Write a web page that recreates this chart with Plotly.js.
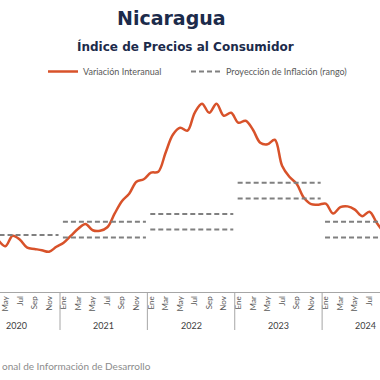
<!DOCTYPE html>
<html>
<head>
<meta charset="utf-8">
<script src="https://cdn.plot.ly/plotly-3.0.1.min.js"></script>
<style>html,body{margin:0;padding:0;background:#fff;}#chart{width:380px;height:380px;}</style>
</head>
<body>
<div id="chart"></div>
<script>
// ---- data ----
const monthNames = ['Ene','Feb','Mar','Abr','May','Jun','Jul','Ago','Sep','Oct','Nov','Dic'];
const years = [2020, 2021, 2022, 2023, 2024];
// Variación interanual (%), from Abr 2020 to Sep 2024
const startYear = 2020;
const startMonth = 4; // Abr
const interanual = [
  3.35, 2.94, 3.61, 3.35, 2.84, 2.76, 2.68, 2.58, 2.90,
  3.16, 3.61, 4.06, 4.36, 3.96, 3.93, 4.15, 5.02, 5.82, 6.30, 7.07, 7.23,
  7.65, 7.71, 8.93, 10.08, 10.53, 10.34, 11.49, 12.07, 11.49, 12.07, 11.30, 11.49,
  10.85, 10.98, 10.40, 9.57, 9.47, 9.76, 8.10, 7.39, 6.94, 6.04, 5.63, 5.60,
  5.66, 5.03, 5.44, 5.49, 5.28, 4.86, 5.15, 4.44, 3.78
];
// Proyección de inflación (rango), per year
const projLow  = [3.65, 3.5, 4.0, 6.0, 3.5];
const projHigh = [null, 4.5, 5.0, 7.0, 4.5];
const sourceText = 'onal de Información de Desarrollo';

// ---- build ----
const firstIdx = startMonth - 1;
const xLine = interanual.map((v, i) => firstIdx + i);
const yLine = interanual.slice();

const xProj = [], yProj = [];
years.forEach((yr, k) => {
  const a = (yr - startYear) * 12 - 0.1, b = (yr - startYear) * 12 + 11.3;
  [projLow[k], projHigh[k]].forEach(v => {
    if (v === null) return;
    xProj.push(a, b, null);
    yProj.push(v, v, null);
  });
});

const tickvals = [], ticktext = [];
years.forEach((yr, k) => {
  for (let m = 0; m < 12; m += 2) {
    tickvals.push(k * 12 + m);
    ticktext.push(monthNames[m]);
  }
});

const FONT = 'Lato, "Open Sans", sans-serif';
const traces = [
  {
    x: xLine, y: yLine, type: 'scatter', mode: 'lines',
    name: 'Variación Interanual', legend: 'legend',
    line: {color: '#D8522A', width: 2.5, shape: 'spline', smoothing: 1},
    hoverinfo: 'skip'
  },
  {
    x: xProj, y: yProj, type: 'scatter', mode: 'lines',
    name: 'Proyección de Inflación (rango)', legend: 'legend2',
    line: {color: '#808080', width: 2, dash: '5px,3px'},
    connectgaps: false, hoverinfo: 'skip'
  }
];

const annotations = [
  {text: '<b>Nicaragua</b>', xref: 'paper', yref: 'paper', x: 171/380, y: 1 + (95-18)/197,
   xanchor: 'center', yanchor: 'middle', showarrow: false,
   font: {family: '"DejaVu Sans", sans-serif', size: 19, color: '#1C2B4B'}},
  {text: '<b>Índice de Precios al Consumidor</b>', xref: 'paper', yref: 'paper', x: 185/380, y: 1 + (95-46)/197,
   xanchor: 'center', yanchor: 'middle', showarrow: false,
   font: {family: '"DejaVu Sans", sans-serif', size: 12, color: '#1C2B4B'}},
  {text: sourceText, xref: 'paper', yref: 'paper',
   x: 0, y: -(366-292)/197, xanchor: 'left', yanchor: 'middle', showarrow: false,
   font: {family: FONT, size: 10, color: '#8C8C8C'}}
];
years.forEach((yr, k) => {
  annotations.push({text: String(yr), xref: 'x', yref: 'paper', x: k * 12 + 5.5, y: -(325-292)/197,
    xanchor: 'center', yanchor: 'middle', showarrow: false,
    font: {family: FONT, size: 9, color: '#404040'}});
});

const shapes = [];
years.forEach((yr, k) => {
  if (k === 0) return;
  shapes.push({type: 'line', xref: 'x', yref: 'paper', x0: k * 12 - 0.5, x1: k * 12 - 0.5,
    y0: 0, y1: -(330-292)/197, line: {color: '#A6A6A6', width: 1}});
});

const legendBase = {orientation: 'h', y: 1 + (95-57)/197, xanchor: 'left', yanchor: 'top',
  font: {family: FONT, size: 9, color: '#595959'}, bgcolor: 'rgba(0,0,0,0)'};

const layout = {
  width: 380, height: 380,
  margin: {l: 0, r: 0, t: 95, b: 88, pad: 0},
  paper_bgcolor: '#ffffff', plot_bgcolor: '#ffffff',
  font: {family: FONT, color: '#595959'},
  showlegend: true,
  legend: Object.assign({}, legendBase, {x: 43/380}),
  legend2: Object.assign({}, legendBase, {x: 186/380}),
  xaxis: {range: [3.26, 55.45], tickvals: tickvals, ticktext: ticktext, tickangle: -90,
    ticks: '', showgrid: false, zeroline: false, showline: true, linecolor: '#A6A6A6', linewidth: 1,
    ticklabeloverflow: 'allow',
    tickfont: {family: FONT, size: 8, color: '#595959'}, automargin: false, fixedrange: true},
  yaxis: {range: [0, 12.63], visible: false, showgrid: false, zeroline: false, fixedrange: true},
  annotations: annotations,
  shapes: shapes
};

Plotly.newPlot('chart', traces, layout, {displayModeBar: false, staticPlot: true});
</script>
</body>
</html>
